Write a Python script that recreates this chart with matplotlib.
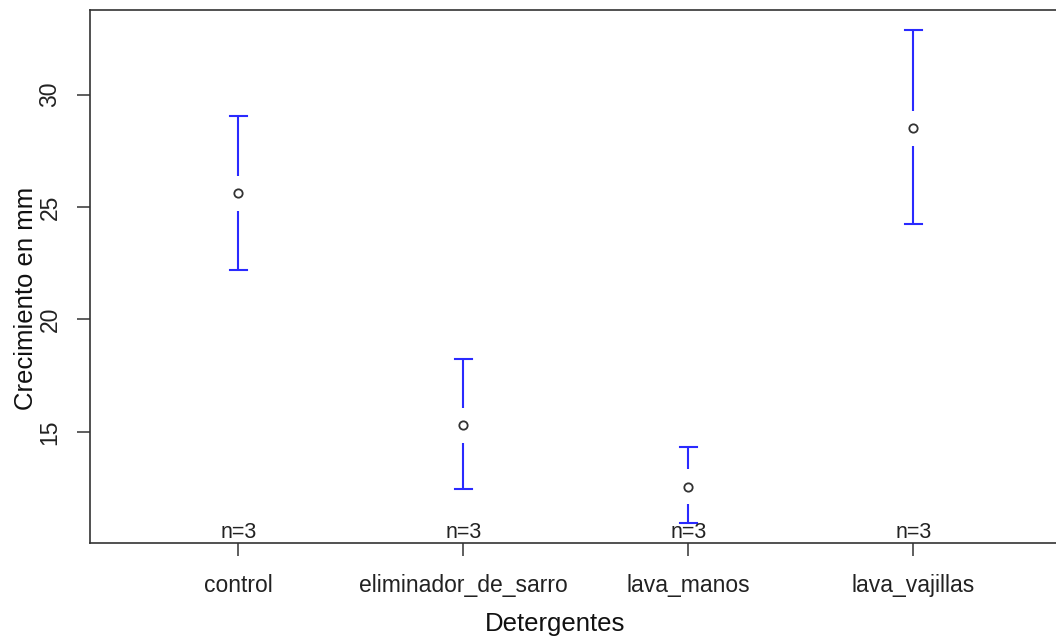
import matplotlib
matplotlib.use("Agg")
import matplotlib.pyplot as plt
import numpy as np

plt.rcParams['font.family'] = ['Liberation Sans', 'DejaVu Sans']

categories = ["control", "eliminador_de_sarro", "lava_manos", "lava_vajillas"]
means = [25.6, 15.3, 12.57, 28.5]
upper = [29.03, 18.24, 14.35, 32.88]
lower = [22.21, 12.48, 10.94, 24.25]
counts = [3, 3, 3, 3]
yticks = [15, 20, 25, 30]

W, H = 1056, 636
fig = plt.figure(figsize=(W/100, H/100), dpi=100)
ax = fig.add_axes([90/W, 1-543/H, (1062-90)/W, (543-10)/H])

x = np.arange(1, len(categories) + 1)
ax.set_xlim(0.34, 4.66)
lo_all, hi_all = min(lower), max(upper)
rng = hi_all - lo_all
ax.set_ylim(lo_all - 0.04 * rng, hi_all + 0.04 * rng)

# convert pixel gap/cap into data units
ax_h_px = 543 - 10
ax_w_px = 1062 - 90
ylim = ax.get_ylim()
xlim = ax.get_xlim()
gap = 17.5 * (ylim[1] - ylim[0]) / ax_h_px
cap = 8.7 * (xlim[1] - xlim[0]) / ax_w_px

blue = '#2a2aff'
for xi, m, u, l in zip(x, means, upper, lower):
    ax.plot([xi, xi], [m + gap, u], color=blue, lw=1.5, solid_capstyle='butt')
    ax.plot([xi, xi], [l, m - gap], color=blue, lw=1.5, solid_capstyle='butt')
    ax.plot([xi - cap, xi + cap], [u, u], color=blue, lw=1.5)
    ax.plot([xi - cap, xi + cap], [l, l], color=blue, lw=1.5)

ax.plot(x, means, linestyle='none', marker='o', markersize=6,
        markerfacecolor='white', markeredgecolor='#333333', markeredgewidth=1.3)

for xi, n in zip(x, counts):
    ax.text(xi, ylim[0] + 0.02, f"n={n}", ha='center', va='bottom',
            fontsize=15.5, color='#222222')

ax.set_xticks(x)
ax.set_xticklabels(categories, fontsize=16.5, color='#222222')
ax.set_yticks(yticks)
ax.set_yticklabels([str(t) for t in yticks], rotation=90, va='center',
                   fontsize=16.5, color='#222222')
ax.tick_params(axis='both', length=9.5, width=1.1, color='#333333')
ax.tick_params(axis='y', pad=11)
ax.tick_params(axis='x', pad=13)

for s in ax.spines.values():
    s.set_color('#333333')
    s.set_linewidth(1.2)

fig.text(555/W, 1-631/H, "Detergentes", fontsize=18.5, color='#111111',
         ha='center', va='baseline')
fig.text(33/W, 1-298/H, "Crecimiento en mm", fontsize=18.5, color='#111111',
         ha='center', va='baseline', rotation=90, rotation_mode='anchor')

fig.savefig("out.png", dpi=100)
